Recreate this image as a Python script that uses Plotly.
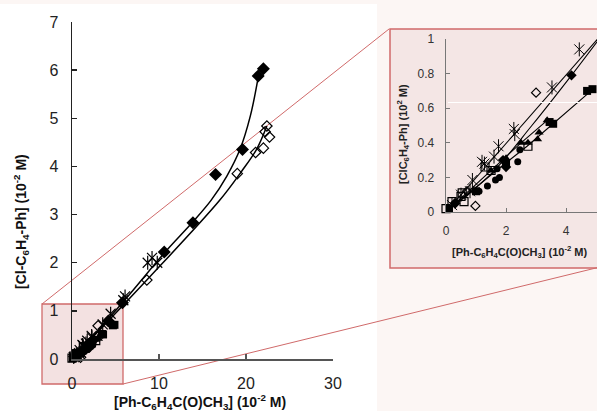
import plotly.graph_objects as go

W, H = 597, 411

# ---- data (units of 10^-2 M) ----
fd_x = [0.3, 1.9, 2.0, 4.18, 5.8, 10.6, 13.9, 16.5, 19.6, 21.4, 22.0]
fd_y = [0.05, 0.30, 0.26, 0.79, 1.17, 2.22, 2.83, 3.83, 4.35, 5.88, 6.03]

od_x = [0.98, 0.3, 0.7, 3.0, 8.6, 19.0, 21.1, 22.0, 22.7, 22.2, 22.4]
od_y = [0.035, 0.05, 0.12, 0.69, 1.64, 3.85, 4.29, 4.38, 4.61, 4.72, 4.84]

as_x = [0.2, 0.5, 0.88, 0.8, 1.2, 1.28, 1.6, 1.75, 2.26, 2.29, 3.53, 4.44, 5.9, 6.1, 8.7, 9.2, 9.8]
as_y = [0.04, 0.10, 0.185, 0.12, 0.29, 0.28, 0.32, 0.38, 0.48, 0.45, 0.72, 0.94, 1.22, 1.30, 2.00, 2.10, 2.00]

fs_x = [0.1, 1.0, 2.0, 3.45, 3.57, 4.7, 4.88]
fs_y = [0.02, 0.12, 0.28, 0.52, 0.51, 0.70, 0.71]

ft_x = [1.5, 2.0, 2.5, 2.73, 3.05, 3.1, 3.37]
ft_y = [0.24, 0.31, 0.40, 0.40, 0.42, 0.46, 0.53]

fc_x = [1.1, 1.38, 1.65, 1.78, 1.7, 2.39, 2.46]
fc_y = [0.12, 0.15, 0.185, 0.20, 0.25, 0.29, 0.36]

os_x = [0.0, 0.2, 0.5, 0.54, 0.6, 1.3, 1.5, 2.73]
os_y = [0.02, 0.06, 0.09, 0.11, 0.06, 0.26, 0.24, 0.38]

# fitted curves, main panel
fit_fd_x = [0, 5.8, 10.6, 13.9, 16.0, 17.8, 19.3, 20.5, 21.4]
fit_fd_y = [0, 1.17, 2.20, 2.85, 3.30, 3.80, 4.35, 5.05, 5.85]
fit_od_x = [0, 8.6, 16.9, 19.5, 21.2, 22.4]
fit_od_y = [0, 1.64, 3.28, 3.90, 4.35, 4.84]

# fitted curves, inset
fit_a_x = [0, 5.05]
fit_a_y = [0, 1.0]
fit_b_x = [0, 1.5, 2.86, 4.18, 5.1]
fit_b_y = [0, 0.22, 0.50, 0.79, 1.0]
fit_c_x = [0, 1.75, 2.7, 3.57, 4.9]
fit_c_y = [0, 0.25, 0.38, 0.51, 0.71]
fit_d_x = [0, 2.5, 3.37]
fit_d_y = [0, 0.40, 0.53]

main_xticks = [0, 10, 20, 30]
main_yticks = [0, 1, 2, 3, 4, 5, 6, 7]
inset_xticks = [0, 2, 4]
inset_yticks = [0, 0.2, 0.4, 0.6, 0.8, 1]
inset_yticktext = ["0", "0.2", "0.4", "0.6", "0.8", "1"]

INX_MAX = 5.03


def PX(v):
    return v / W


def PY(v):
    return 1 - v / H


def clip(xs, ys):
    pts = [(a, b) for a, b in zip(xs, ys) if a <= INX_MAX + 0.1 and b <= 1.03]
    return [p[0] for p in pts], [p[1] for p in pts]


fig = go.Figure()

# lines
for xs, ys in [(fit_fd_x, fit_fd_y), (fit_od_x, fit_od_y)]:
    fig.add_trace(go.Scatter(x=xs, y=ys, mode="lines", line=dict(color="black", width=1.5, shape="spline", smoothing=1.0),
                             xaxis="x", yaxis="y", hoverinfo="skip", showlegend=False))
for xs, ys, sh in [(fit_a_x, fit_a_y, "linear"), (fit_b_x, fit_b_y, "spline"),
                   (fit_c_x, fit_c_y, "linear"), (fit_d_x, fit_d_y, "linear")]:
    fig.add_trace(go.Scatter(x=xs, y=ys, mode="lines", line=dict(color="black", width=1.1, shape=sh),
                             xaxis="x2", yaxis="y2", hoverinfo="skip", showlegend=False))

series = [
    (os_x, os_y, "square-open", 8, 8),
    (od_x, od_y, "diamond-open", 8, 7),
    (fc_x, fc_y, "circle", 7, 7),
    (ft_x, ft_y, "triangle-up", 8, 8),
    (fs_x, fs_y, "square", 8, 8),
    (fd_x, fd_y, "diamond", 10, 8),
]

for xs, ys, sym, s_main, s_in in series:
    open_ = sym.endswith("open")
    mk = dict(symbol=sym, color="black", size=s_main,
              line=dict(color="black", width=1.2 if open_ else 0))
    fig.add_trace(go.Scatter(x=xs, y=ys, mode="markers", marker=mk, cliponaxis=False,
                             xaxis="x", yaxis="y", showlegend=False))
    ix, iy = clip(xs, ys)
    mk2 = dict(mk)
    mk2["size"] = s_in
    fig.add_trace(go.Scatter(x=ix, y=iy, mode="markers", marker=mk2, cliponaxis=False,
                             xaxis="x2", yaxis="y2", showlegend=False))

# asterisks: x plus vertical bar
for sym in ["x-thin-open", "line-ns-open"]:
    fig.add_trace(go.Scatter(x=as_x, y=as_y, mode="markers", cliponaxis=False,
                             marker=dict(symbol=sym, size=10, color="black", line=dict(color="black", width=1.2)),
                             xaxis="x", yaxis="y", showlegend=False))
    ix, iy = clip(as_x, as_y)
    fig.add_trace(go.Scatter(x=ix, y=iy, mode="markers", cliponaxis=False,
                             marker=dict(symbol=sym, size=10, color="black", line=dict(color="black", width=1.0)),
                             xaxis="x2", yaxis="y2", showlegend=False))

RED = "#d06a6a"
shapes = [
    dict(type="rect", xref="paper", yref="paper", x0=0, x1=PX(377), y0=0, y1=PY(4),
         fillcolor="white", line=dict(width=0), layer="below"),
    dict(type="rect", xref="paper", yref="paper", x0=PX(42), x1=PX(123), y0=PY(384), y1=PY(304),
         fillcolor="#f3e1e1", line=dict(color=RED, width=1.3), layer="below"),
    dict(type="rect", xref="paper", yref="paper", x0=PX(390), x1=PX(612), y0=PY(268), y1=PY(29),
         fillcolor="#f4e6e5", line=dict(color=RED, width=1.5), layer="below"),
    dict(type="line", xref="paper", yref="paper", x0=PX(42), y0=PY(304), x1=PX(389), y1=PY(29),
         line=dict(color=RED, width=1), layer="below"),
    dict(type="line", xref="paper", yref="paper", x0=PX(123), y0=PY(384), x1=PX(600), y1=PY(267),
         line=dict(color=RED, width=1), layer="below"),
    dict(type="line", xref="paper", yref="paper", x0=PX(448), y0=PY(102.5), x1=PX(597), y1=PY(102.5),
         line=dict(color="white", width=1), layer="above"),
]

FONT = "Liberation Sans, Arial, sans-serif"
annotations = [
    dict(text="<b>[Cl-C<sub>6</sub>H<sub>4</sub>-Ph] (10<sup>-2</sup> M)</b>", textangle=-90,
         x=PX(21), y=PY(222), xref="paper", yref="paper", showarrow=False,
         xanchor="center", yanchor="middle", font=dict(family=FONT, size=14, color="#111")),
    dict(text="<b>[Ph-C<sub>6</sub>H<sub>4</sub>C(O)CH<sub>3</sub>] (10<sup>-2</sup> M)</b>",
         x=PX(200), y=PY(402), xref="paper", yref="paper", showarrow=False,
         xanchor="center", yanchor="middle", font=dict(family=FONT, size=14, color="#111")),
    dict(text="<b>[ClC<sub>6</sub>H<sub>4</sub>-Ph] (10<sup>2</sup> M)</b>", textangle=-90,
         x=PX(403), y=PY(134), xref="paper", yref="paper", showarrow=False,
         xanchor="center", yanchor="middle", font=dict(family=FONT, size=11, color="#222")),
    dict(text="<b>[Ph-C<sub>6</sub>H<sub>4</sub>C(O)CH<sub>3</sub>] (10<sup>-2</sup> M)</b>",
         x=PX(520), y=PY(252), xref="paper", yref="paper", showarrow=False,
         xanchor="center", yanchor="middle", font=dict(family=FONT, size=11, color="#222")),
]

ax_common = dict(showgrid=False, zeroline=False, showline=True, ticks="inside", fixedrange=True,
                 automargin=False)

fig.update_layout(
    width=W, height=411,
    margin=dict(l=0, r=0, t=0, b=0, pad=0, autoexpand=False),
    paper_bgcolor="#fcf6f4",
    plot_bgcolor="rgba(0,0,0,0)",
    font=dict(family=FONT),
    xaxis=dict(**ax_common, domain=[PX(72), PX(333)], range=[0, 30], tickvals=main_xticks,
               linecolor="#555", linewidth=1.8, tickcolor="#555", ticklen=5, tickwidth=1.3,
               tickfont=dict(size=16, color="#222"), ticklabelstandoff=9, anchor="y"),
    yaxis=dict(**ax_common, domain=[PY(359), PY(22)], range=[0, 7], tickvals=main_yticks,
               linecolor="#222", linewidth=1.4, tickcolor="#222", ticklen=5, tickwidth=1.3,
               tickfont=dict(size=16, color="#222"), ticklabelstandoff=9, anchor="x"),
    xaxis2=dict(**ax_common, domain=[PX(446), 1], range=[0, INX_MAX], tickvals=inset_xticks,
                linecolor="#777", linewidth=1.4, tickcolor="#777", ticklen=4,
                tickfont=dict(size=12, color="#333"), ticklabelstandoff=7, anchor="y2"),
    yaxis2=dict(**ax_common, domain=[PY(212), PY(39)], range=[0, 1], tickvals=inset_yticks,
                ticktext=inset_yticktext,
                linecolor="#777", linewidth=1.4, tickcolor="#777", ticklen=4,
                tickfont=dict(size=12, color="#333"), ticklabelstandoff=8, anchor="x2"),
    shapes=shapes,
    annotations=annotations,
)

fig.write_html("out.html", config={"displayModeBar": False, "staticPlot": True},
               post_script="document.body.style.margin='0';document.body.style.padding='0';"
                           "document.body.style.overflow='hidden';")
